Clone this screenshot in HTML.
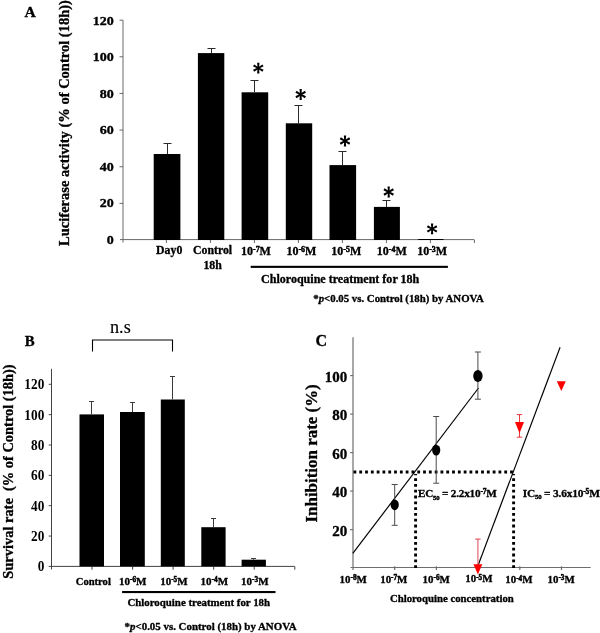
<!DOCTYPE html>
<html><head><meta charset="utf-8"><title>Figure</title>
<style>html,body{margin:0;padding:0;background:#fff;}body{width:600px;height:633px;overflow:hidden;}svg{display:block;will-change:transform;}text{font-family:"Liberation Serif",serif;font-weight:bold;fill:#000;stroke:#000;stroke-width:0.32px;stroke-linejoin:round;}</style>
</head><body>
<svg width="600" height="633" viewBox="0 0 600 633">
<rect width="600" height="633" fill="#fff"/>
<!-- Panel A -->
<text x="24.5" y="17" font-size="15.6">A</text>
<text transform="translate(68.8,123) rotate(-90)" font-size="14.5" text-anchor="middle">Luciferase activity (% of Control (18h))</text>
<g stroke="#686868" stroke-width="1" fill="none">
<line x1="123.0" y1="20.2" x2="123.0" y2="242.5"/>
<line x1="120.0" y1="239.6" x2="474" y2="239.6"/>
<line x1="119.5" y1="203.36" x2="123.0" y2="203.36"/>
<line x1="119.5" y1="166.72" x2="123.0" y2="166.72"/>
<line x1="119.5" y1="130.08" x2="123.0" y2="130.08"/>
<line x1="119.5" y1="93.44" x2="123.0" y2="93.44"/>
<line x1="119.5" y1="56.80" x2="123.0" y2="56.80"/>
<line x1="119.5" y1="20.16" x2="123.0" y2="20.16"/>
<line x1="166.4" y1="239.6" x2="166.4" y2="243.0"/>
<line x1="210.4" y1="239.6" x2="210.4" y2="243.0"/>
<line x1="254.4" y1="239.6" x2="254.4" y2="243.0"/>
<line x1="298.4" y1="239.6" x2="298.4" y2="243.0"/>
<line x1="342.4" y1="239.6" x2="342.4" y2="243.0"/>
<line x1="386.4" y1="239.6" x2="386.4" y2="243.0"/>
<line x1="430.4" y1="239.6" x2="430.4" y2="243.0"/>
<line x1="474.4" y1="239.6" x2="474.4" y2="243.0"/>
</g>
<text transform="translate(113.7,243.9) scale(1.17,1)" font-size="12" text-anchor="end" style="font-weight:bold">0</text>
<text transform="translate(113.7,207.4) scale(1.17,1)" font-size="12" text-anchor="end" style="font-weight:bold">20</text>
<text transform="translate(113.7,170.9) scale(1.17,1)" font-size="12" text-anchor="end" style="font-weight:bold">40</text>
<text transform="translate(113.7,134.4) scale(1.17,1)" font-size="12" text-anchor="end" style="font-weight:bold">60</text>
<text transform="translate(113.7,97.9) scale(1.17,1)" font-size="12" text-anchor="end" style="font-weight:bold">80</text>
<text transform="translate(113.7,61.4) scale(1.17,1)" font-size="12" text-anchor="end" style="font-weight:bold">100</text>
<text transform="translate(113.7,24.9) scale(1.17,1)" font-size="12" text-anchor="end" style="font-weight:bold">120</text>
<rect x="153.7" y="154.0" width="26.7" height="86.0" fill="#000"/>
<path d="M167.5 154.0 V143.5 M163.5 143.5 H171.5" stroke="#2a2a2a" stroke-width="1" fill="none"/>
<rect x="197.9" y="53.1" width="26.4" height="186.9" fill="#000"/>
<path d="M211.5 53.1 V48.5 M207.5 48.5 H215.5" stroke="#2a2a2a" stroke-width="1" fill="none"/>
<rect x="241.6" y="92.3" width="26.6" height="147.7" fill="#000"/>
<path d="M254.5 92.3 V80.5 M250.5 80.5 H258.5" stroke="#2a2a2a" stroke-width="1" fill="none"/>
<rect x="285.8" y="123.3" width="26.4" height="116.7" fill="#000"/>
<path d="M298.5 123.3 V105.5 M294.5 105.5 H302.5" stroke="#2a2a2a" stroke-width="1" fill="none"/>
<rect x="329.5" y="165.1" width="26.6" height="74.9" fill="#000"/>
<path d="M342.5 165.1 V151.5 M338.5 151.5 H346.5" stroke="#2a2a2a" stroke-width="1" fill="none"/>
<rect x="373.9" y="206.9" width="26.0" height="33.1" fill="#000"/>
<path d="M386.5 206.9 V200.5 M382.5 200.5 H390.5" stroke="#2a2a2a" stroke-width="1" fill="none"/>
<rect x="418.2" y="239.0" width="25.3" height="1.0" fill="#000"/>
<path d="M259.05 68.10 L259.45 62.65 L257.15 62.65 L257.55 68.10 Z M258.68 68.75 L263.59 66.37 L262.44 64.38 L257.93 67.45 Z M258.68 67.45 L254.16 64.38 L253.01 66.37 L257.93 68.75 Z M257.55 68.10 L257.15 73.55 L259.45 73.55 L259.05 68.10 Z M257.93 67.45 L253.01 69.83 L254.16 71.82 L258.68 68.75 Z M257.93 68.75 L262.44 71.82 L263.59 69.83 L258.68 67.45 Z" fill="#000"/><circle cx="258.3" cy="68.1" r="1.1" fill="#000"/>
<path d="M301.45 94.50 L301.85 89.05 L299.55 89.05 L299.95 94.50 Z M301.07 95.15 L305.99 92.77 L304.84 90.78 L300.32 93.85 Z M301.07 93.85 L296.56 90.78 L295.41 92.77 L300.32 95.15 Z M299.95 94.50 L299.55 99.95 L301.85 99.95 L301.45 94.50 Z M300.32 93.85 L295.41 96.23 L296.56 98.22 L301.07 95.15 Z M300.32 95.15 L304.84 98.22 L305.99 96.23 L301.07 93.85 Z" fill="#000"/><circle cx="300.7" cy="94.5" r="1.1" fill="#000"/>
<path d="M345.75 141.00 L346.15 135.55 L343.85 135.55 L344.25 141.00 Z M345.38 141.65 L350.29 139.27 L349.14 137.28 L344.62 140.35 Z M345.38 140.35 L340.86 137.28 L339.71 139.27 L344.62 141.65 Z M344.25 141.00 L343.85 146.45 L346.15 146.45 L345.75 141.00 Z M344.62 140.35 L339.71 142.73 L340.86 144.72 L345.38 141.65 Z M344.62 141.65 L349.14 144.72 L350.29 142.73 L345.38 140.35 Z" fill="#000"/><circle cx="345.0" cy="141.0" r="1.1" fill="#000"/>
<path d="M389.45 192.00 L389.85 186.55 L387.55 186.55 L387.95 192.00 Z M389.07 192.65 L393.99 190.27 L392.84 188.28 L388.32 191.35 Z M389.07 191.35 L384.56 188.28 L383.41 190.27 L388.32 192.65 Z M387.95 192.00 L387.55 197.45 L389.85 197.45 L389.45 192.00 Z M388.32 191.35 L383.41 193.73 L384.56 195.72 L389.07 192.65 Z M388.32 192.65 L392.84 195.72 L393.99 193.73 L389.07 191.35 Z" fill="#000"/><circle cx="388.7" cy="192.0" r="1.1" fill="#000"/>
<path d="M432.85 228.90 L433.25 223.45 L430.95 223.45 L431.35 228.90 Z M432.48 229.55 L437.39 227.17 L436.24 225.18 L431.73 228.25 Z M432.48 228.25 L427.96 225.18 L426.81 227.17 L431.73 229.55 Z M431.35 228.90 L430.95 234.35 L433.25 234.35 L432.85 228.90 Z M431.73 228.25 L426.81 230.63 L427.96 232.62 L432.48 229.55 Z M431.73 229.55 L436.24 232.62 L437.39 230.63 L432.48 228.25 Z" fill="#000"/><circle cx="432.1" cy="228.9" r="1.1" fill="#000"/>
<text x="169.2" y="253.9" font-size="11.8" text-anchor="middle">Day0</text>
<text x="212.6" y="253.9" font-size="11.8" text-anchor="middle">Control</text>
<text x="212.6" y="269.3" font-size="11.8" text-anchor="middle">18h</text>
<text x="241.0" y="254.9" font-size="12" text-anchor="start">10<tspan font-size="7.92" dy="-2.82" stroke-width="0.5">-7</tspan><tspan dy="2.82">M</tspan></text>
<text x="286.4" y="254.9" font-size="12" text-anchor="start">10<tspan font-size="7.92" dy="-2.82" stroke-width="0.5">-6</tspan><tspan dy="2.82">M</tspan></text>
<text x="331.3" y="254.9" font-size="12" text-anchor="start">10<tspan font-size="7.92" dy="-2.82" stroke-width="0.5">-5</tspan><tspan dy="2.82">M</tspan></text>
<text x="376.8" y="254.9" font-size="12" text-anchor="start">10<tspan font-size="7.92" dy="-2.82" stroke-width="0.5">-4</tspan><tspan dy="2.82">M</tspan></text>
<text x="417.2" y="254.9" font-size="12" text-anchor="start">10<tspan font-size="7.92" dy="-2.82" stroke-width="0.5">-3</tspan><tspan dy="2.82">M</tspan></text>
<rect x="250.7" y="265.8" width="197.2" height="2.1" fill="#000"/>
<text x="261.0" y="282.6" font-size="12.05">Chloroquine treatment for 18h</text>
<text x="313.3" y="301.7" font-size="10.8">*<tspan font-style="italic">p</tspan>&lt;0.05 vs. Control (18h) by ANOVA</text>
<!-- Panel B -->
<text x="24.8" y="346.1" font-size="14.8">B</text>
<text transform="translate(12.9,471.5) rotate(-90) scale(0.962,1)" font-size="15" text-anchor="middle" xml:space="preserve">Survival rate  (% of Control (18h))</text>
<g stroke="#444" stroke-width="1" fill="none">
<line x1="51.5" y1="368.8" x2="51.5" y2="569.4"/>
<line x1="48.7" y1="566.4" x2="294.7" y2="566.4"/>
<line x1="48.7" y1="536.05" x2="51.5" y2="536.05"/>
<line x1="48.7" y1="505.70" x2="51.5" y2="505.70"/>
<line x1="48.7" y1="475.35" x2="51.5" y2="475.35"/>
<line x1="48.7" y1="445.00" x2="51.5" y2="445.00"/>
<line x1="48.7" y1="414.65" x2="51.5" y2="414.65"/>
<line x1="48.7" y1="384.30" x2="51.5" y2="384.30"/>
<line x1="92.0" y1="566.4" x2="92.0" y2="569.6999999999999"/>
<line x1="132.6" y1="566.4" x2="132.6" y2="569.6999999999999"/>
<line x1="173.1" y1="566.4" x2="173.1" y2="569.6999999999999"/>
<line x1="213.7" y1="566.4" x2="213.7" y2="569.6999999999999"/>
<line x1="254.2" y1="566.4" x2="254.2" y2="569.6999999999999"/>
<line x1="294.8" y1="566.4" x2="294.8" y2="569.6999999999999"/>
</g>
<text transform="translate(44.3,571.30) scale(0.93,1)" font-size="14.3" text-anchor="end" style="font-weight:bold;stroke-width:0">0</text>
<text transform="translate(44.3,540.95) scale(0.93,1)" font-size="14.3" text-anchor="end" style="font-weight:bold;stroke-width:0">20</text>
<text transform="translate(44.3,510.60) scale(0.93,1)" font-size="14.3" text-anchor="end" style="font-weight:bold;stroke-width:0">40</text>
<text transform="translate(44.3,480.25) scale(0.93,1)" font-size="14.3" text-anchor="end" style="font-weight:bold;stroke-width:0">60</text>
<text transform="translate(44.3,449.90) scale(0.93,1)" font-size="14.3" text-anchor="end" style="font-weight:bold;stroke-width:0">80</text>
<text transform="translate(44.3,419.55) scale(0.93,1)" font-size="14.3" text-anchor="end" style="font-weight:bold;stroke-width:0">100</text>
<text transform="translate(44.3,389.20) scale(0.93,1)" font-size="14.3" text-anchor="end" style="font-weight:bold;stroke-width:0">120</text>
<rect x="79.5" y="414.4" width="24.5" height="152.0" fill="#000"/>
<path d="M91.5 414.4 V401.5 M89.0 401.5 H94.0" stroke="#3a3a3a" stroke-width="1" fill="none"/>
<rect x="120.0" y="412.0" width="24.8" height="154.4" fill="#000"/>
<path d="M132.5 412.0 V402.5 M130.0 402.5 H135.0" stroke="#3a3a3a" stroke-width="1" fill="none"/>
<rect x="160.8" y="399.5" width="24.0" height="166.9" fill="#000"/>
<path d="M172.5 399.5 V376.5 M170.0 376.5 H175.0" stroke="#3a3a3a" stroke-width="1" fill="none"/>
<rect x="201.3" y="527.2" width="24.3" height="39.2" fill="#000"/>
<path d="M213.5 527.2 V518.5 M211.0 518.5 H216.0" stroke="#3a3a3a" stroke-width="1" fill="none"/>
<rect x="241.6" y="559.7" width="24.3" height="6.7" fill="#000"/>
<path d="M253.5 559.7 V558.5 M251.0 558.5 H256.0" stroke="#3a3a3a" stroke-width="1" fill="none"/>
<path d="M92.5 351.5 V340 H172.5 V351.5" stroke="#000" stroke-width="1.1" fill="none"/>
<text x="110" y="333.3" font-size="18.2" style="font-weight:normal;stroke-width:0.12px">n.s</text>
<text x="93.3" y="584.8" font-size="10.6" text-anchor="middle">Control</text>
<text x="119.0" y="584.9" font-size="11" text-anchor="start">10<tspan font-size="7.26" dy="-2.58" stroke-width="0.5">-6</tspan><tspan dy="2.58">M</tspan></text>
<text x="160.2" y="584.9" font-size="11" text-anchor="start">10<tspan font-size="7.26" dy="-2.58" stroke-width="0.5">-5</tspan><tspan dy="2.58">M</tspan></text>
<text x="200.6" y="584.9" font-size="11" text-anchor="start">10<tspan font-size="7.26" dy="-2.58" stroke-width="0.5">-4</tspan><tspan dy="2.58">M</tspan></text>
<text x="241.1" y="584.9" font-size="11" text-anchor="start">10<tspan font-size="7.26" dy="-2.58" stroke-width="0.5">-3</tspan><tspan dy="2.58">M</tspan></text>
<rect x="122.1" y="591" width="153.4" height="2.1" fill="#000"/>
<text x="127.4" y="606.3" font-size="10.87">Chloroquine treatment for 18h</text>
<text x="124.6" y="629.6" font-size="10.9">*<tspan font-style="italic">p</tspan>&lt;0.05 vs. Control (18h) by ANOVA</text>
<!-- Panel C -->
<text x="315.5" y="345.5" font-size="16">C</text>
<text transform="translate(316.5,453.4) rotate(-90) scale(1.008,1)" font-size="16.8" text-anchor="middle">Inhibition rate (%)</text>
<g stroke="#6e6e6e" stroke-width="1.2" fill="none">
<line x1="353.0" y1="337.3" x2="353.0" y2="570.0"/>
<line x1="350.5" y1="567.5" x2="590.7" y2="567.5"/>
<line x1="350.2" y1="529.60" x2="353.0" y2="529.60"/>
<line x1="350.2" y1="491.10" x2="353.0" y2="491.10"/>
<line x1="350.2" y1="452.60" x2="353.0" y2="452.60"/>
<line x1="350.2" y1="414.10" x2="353.0" y2="414.10"/>
<line x1="350.2" y1="375.60" x2="353.0" y2="375.60"/>
<line x1="394.7" y1="566.3" x2="394.7" y2="570.1"/>
<line x1="436.4" y1="566.3" x2="436.4" y2="570.1"/>
<line x1="478.1" y1="566.3" x2="478.1" y2="570.1"/>
<line x1="519.8" y1="566.3" x2="519.8" y2="570.1"/>
<line x1="561.5" y1="566.3" x2="561.5" y2="570.1"/>
</g>
<text transform="translate(347.2,535.6) scale(1.0,1)" font-size="15" text-anchor="end" style="font-weight:bold">20</text>
<text transform="translate(347.2,497.1) scale(1.0,1)" font-size="15" text-anchor="end" style="font-weight:bold">40</text>
<text transform="translate(347.2,458.6) scale(1.0,1)" font-size="15" text-anchor="end" style="font-weight:bold">60</text>
<text transform="translate(347.2,420.1) scale(1.0,1)" font-size="15" text-anchor="end" style="font-weight:bold">80</text>
<text transform="translate(347.2,381.6) scale(1.0,1)" font-size="15" text-anchor="end" style="font-weight:bold">100</text>
<g stroke="#000" stroke-width="2.9" fill="none" stroke-dasharray="2.8 3.0">
<line x1="353.5" y1="472" x2="515" y2="472"/>
<line x1="415.6" y1="568" x2="415.6" y2="474"/>
<line x1="513.6" y1="568" x2="513.6" y2="474"/>
</g>
<g stroke="#000" stroke-width="1.18" fill="none">
<line x1="352.8" y1="553.4" x2="478.5" y2="388"/>
<line x1="477.3" y1="567.5" x2="560.1" y2="347.2"/>
</g>
<path d="M394.7 484.5 V525.3 M391.7 484.5 H397.7 M391.7 525.3 H397.7" stroke="#4a4a4a" stroke-width="1" fill="none"/>
<ellipse cx="394.7" cy="504.8" rx="4.1" ry="5.4" fill="#000"/>
<path d="M436.2 416.5 V483.2 M433.2 416.5 H439.2 M433.2 483.2 H439.2" stroke="#4a4a4a" stroke-width="1" fill="none"/>
<ellipse cx="436.2" cy="450.1" rx="4.1" ry="5.4" fill="#000"/>
<path d="M477.9 352.0 V399.2 M474.9 352.0 H480.9 M474.9 399.2 H480.9" stroke="#4a4a4a" stroke-width="1" fill="none"/>
<ellipse cx="477.9" cy="376.0" rx="4.7" ry="6.1" fill="#000"/>
<path d="M477.9 539.1 V566 M475.3 539.1 H480.6" stroke="#e4606a" stroke-width="1.15" fill="none"/>
<path d="M519.5 414.6 V437.2 M516.8 414.6 H522.2 M516.8 437.2 H522.2" stroke="#e83a40" stroke-width="1" fill="none"/>
<path d="M473.5 564.3 H482.3 L477.9 574.6 Z" fill="#fe0000"/>
<path d="M515.0 422.1 H524.0 L519.5 433.3 Z" fill="#fe0000"/>
<path d="M556.8 381.3 H565.8 L561.3 391.0 Z" fill="#fe0000"/>
<text x="417.9" y="496.9" font-size="11.2" style="word-spacing:0px;letter-spacing:-0.19px">EC<tspan font-size="6.72" dy="2.69" stroke-width="0.4">50</tspan><tspan dy="-2.69"> = 2.2x10</tspan><tspan font-size="7.39" dy="-2.52" stroke-width="0.5">-7</tspan><tspan dy="2.52">M</tspan></text>
<text x="522.7" y="496.5" font-size="11.4" style="word-spacing:0px;letter-spacing:-0.19px">IC<tspan font-size="6.84" dy="2.74" stroke-width="0.4">50</tspan><tspan dy="-2.74"> = 3.6x10</tspan><tspan font-size="7.52" dy="-2.56" stroke-width="0.5">-5</tspan><tspan dy="2.56">M</tspan></text>
<text x="339.6" y="582.7" font-size="10.9" text-anchor="start">10<tspan font-size="7.19" dy="-2.56" stroke-width="0.5">-8</tspan><tspan dy="2.56">M</tspan></text>
<text x="380.2" y="582.7" font-size="10.9" text-anchor="start">10<tspan font-size="7.19" dy="-2.56" stroke-width="0.5">-7</tspan><tspan dy="2.56">M</tspan></text>
<text x="422.6" y="582.7" font-size="10.9" text-anchor="start">10<tspan font-size="7.19" dy="-2.56" stroke-width="0.5">-6</tspan><tspan dy="2.56">M</tspan></text>
<text x="465.3" y="582.3" font-size="10.9" text-anchor="start">10<tspan font-size="7.19" dy="-2.56" stroke-width="0.5">-5</tspan><tspan dy="2.56">M</tspan></text>
<text x="505.3" y="583.2" font-size="10.9" text-anchor="start">10<tspan font-size="7.19" dy="-2.56" stroke-width="0.5">-4</tspan><tspan dy="2.56">M</tspan></text>
<text x="547.5" y="582.7" font-size="10.9" text-anchor="start">10<tspan font-size="7.19" dy="-2.56" stroke-width="0.5">-3</tspan><tspan dy="2.56">M</tspan></text>
<text x="389.9" y="602" font-size="10.77">Chloroquine concentration</text>
</svg></body></html>
